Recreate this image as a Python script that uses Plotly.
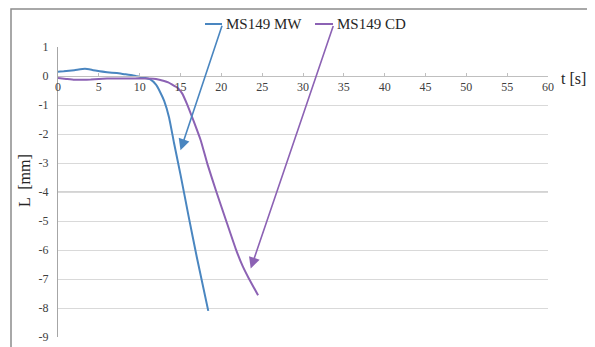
import plotly.graph_objects as go

# ---- data ----
mw_t = [0, 0.7, 2, 3.3, 4.2, 5.1, 6, 7.2, 8.2, 9.2, 10, 10.5, 11.3, 12, 12.5, 13, 13.6, 14.2, 15, 16, 17, 18.4]
mw_L = [0.15, 0.16, 0.2, 0.25, 0.21, 0.16, 0.13, 0.1, 0.06, 0.02, -0.03, -0.06, -0.12, -0.3, -0.55, -0.86, -1.43, -2.3, -3.4, -4.85, -6.25, -8.1]

cd_t = [0, 1, 2, 3, 4, 5, 6, 8, 10, 11, 12, 13, 13.5, 14, 14.6, 15.2, 15.8, 16.6, 17.5, 18.3, 19.4, 20.6, 21.75, 22.6, 23.4, 24.5]
cd_L = [-0.07, -0.1, -0.13, -0.13, -0.12, -0.1, -0.09, -0.09, -0.09, -0.09, -0.1, -0.17, -0.22, -0.3, -0.4, -0.6, -0.97, -1.55, -2.24, -3.04, -4.0, -5.0, -5.95, -6.55, -7.0, -7.56]

x_ticks = list(range(0, 61, 5))
y_ticks = list(range(-9, 2))

series_names = ["MS149 MW", "MS149 CD"]
colors = ["#4a86c0", "#8c62b4"]

# page has an 8px body margin, so the figure is a bit smaller than the window
OFF = 8
W, H = 587, 339
L_M, R_M, T_M, B_M = 50, 47, 39, 10
pw, ph = W - L_M - R_M, H - T_M - B_M


def px(x):
    """screen pixel x -> paper x"""
    return (x - OFF - L_M) / pw


def py(y):
    """screen pixel y -> paper y"""
    return (H - B_M - (y - OFF)) / ph


serif = "Liberation Serif, Times New Roman, serif"

fig = go.Figure()
fig.add_trace(go.Scatter(x=mw_t, y=mw_L, mode="lines", name=series_names[0],
                         line=dict(color=colors[0], width=2, shape="spline", smoothing=0.4)))
fig.add_trace(go.Scatter(x=cd_t, y=cd_L, mode="lines", name=series_names[1],
                         line=dict(color=colors[1], width=2, shape="spline", smoothing=0.4)))

shapes = [
    # outer frame
    dict(type="rect", xref="paper", yref="paper", x0=px(11), x1=px(593), y0=py(360), y1=py(9),
         line=dict(color="#8c8c8c", width=1.5), fillcolor="rgba(0,0,0,0)", layer="below"),
    # darker gridline at -4
    dict(type="line", xref="paper", yref="y", x0=0, x1=1, y0=-4, y1=-4,
         line=dict(color="#a6a6a6", width=1), layer="below"),
    # callout leaders
    dict(type="line", xref="paper", yref="paper", x0=px(205), x1=px(222), y0=py(24), y1=py(24),
         line=dict(color=colors[0], width=2)),
    dict(type="line", xref="paper", yref="paper", x0=px(315), x1=px(333), y0=py(24), y1=py(24),
         line=dict(color=colors[1], width=2)),
]

annotations = [
    dict(x=15.0, y=-2.56, xref="x", yref="y", ax=42, ay=-126, text="", showarrow=True,
         arrowhead=2, arrowsize=1.4, arrowwidth=1.6, arrowcolor=colors[0], standoff=0),
    dict(x=23.6, y=-6.64, xref="x", yref="y", ax=83, ay=-244, text="", showarrow=True,
         arrowhead=2, arrowsize=1.4, arrowwidth=1.6, arrowcolor=colors[1], standoff=0),
    dict(x=px(224), y=py(24), xref="paper", yref="paper", text=series_names[0], showarrow=False,
         xanchor="left", yanchor="middle", font=dict(family=serif, size=15, color="#262626")),
    dict(x=px(335), y=py(24), xref="paper", yref="paper", text=series_names[1], showarrow=False,
         xanchor="left", yanchor="middle", font=dict(family=serif, size=15, color="#262626")),
    dict(x=px(559), y=py(78), xref="paper", yref="paper", text="t [s]", showarrow=False,
         xanchor="left", yanchor="middle", font=dict(family=serif, size=16, color="#262626")),
    dict(x=px(24), y=py(181), xref="paper", yref="paper", text="L  [mm]", showarrow=False,
         textangle=-90, xanchor="center", yanchor="middle",
         font=dict(family=serif, size=16, color="#262626")),
]

fig.update_layout(
    width=W, height=H,
    margin=dict(l=L_M, r=R_M, t=T_M, b=B_M),
    paper_bgcolor="white", plot_bgcolor="white",
    showlegend=False,
    shapes=shapes,
    annotations=annotations,
    xaxis=dict(range=[0, 60], tickvals=x_ticks, ticktext=[str(v) for v in x_ticks],
               anchor="free", position=0.9, showgrid=False, zeroline=False,
               showline=True, linecolor="#bfbfbf", linewidth=1,
               ticks="inside", ticklen=3, tickcolor="#bfbfbf",
               tickfont=dict(family=serif, size=12, color="#404040")),
    yaxis=dict(range=[-9, 1], tickvals=y_ticks, ticktext=[str(v) for v in y_ticks],
               showgrid=True, gridcolor="#d9d9d9", gridwidth=1, zeroline=False,
               showline=True, linecolor="#a6a6a6", linewidth=1, ticks="",
               ticklabelstandoff=6, automargin=False,
               tickfont=dict(family=serif, size=12, color="#404040")),
)

fig.write_html("out.html")
